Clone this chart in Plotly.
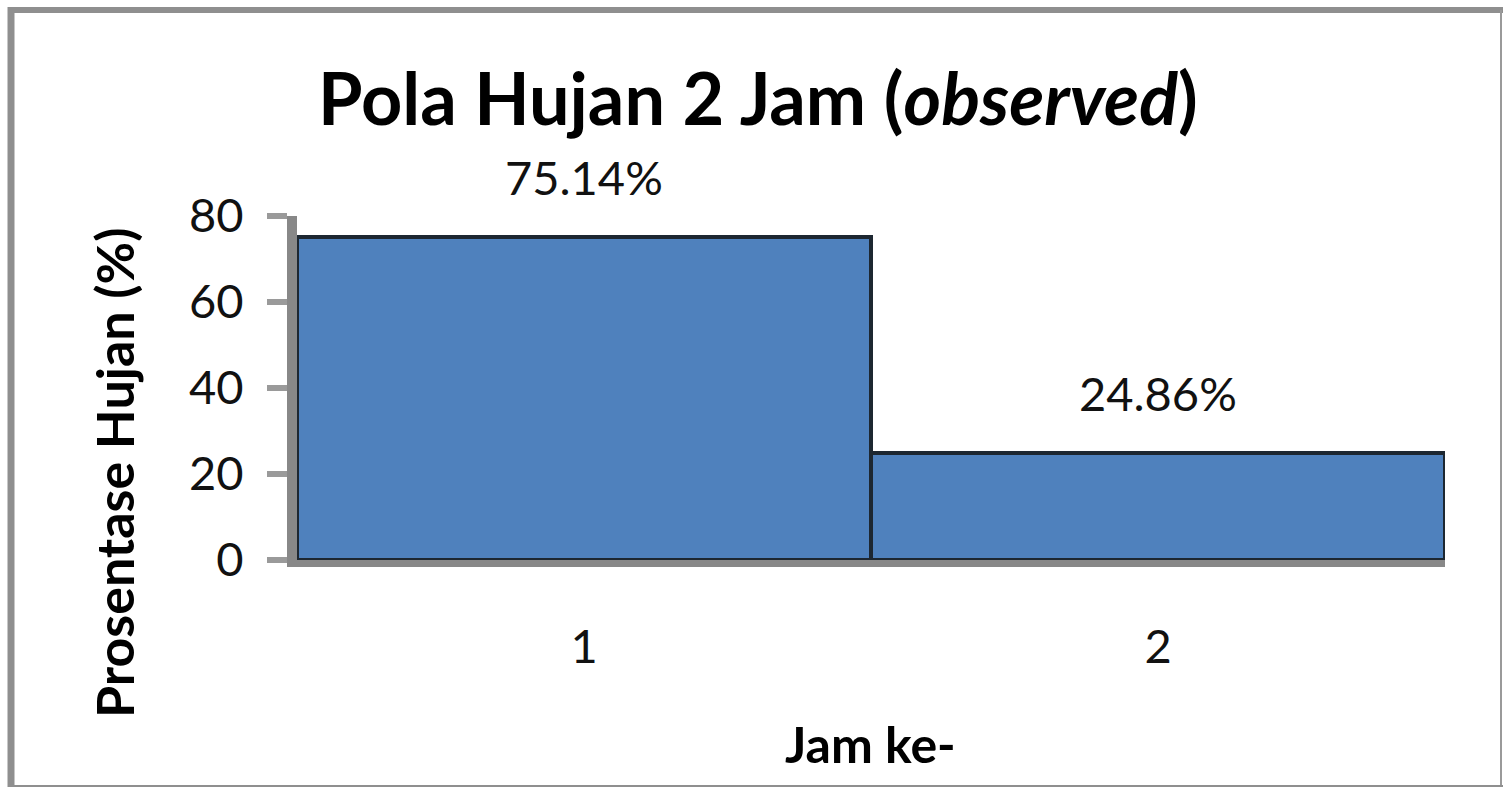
import plotly.graph_objects as go

# Data
jam = [1, 2]
persen = [75.14, 24.86]
y_ticks = [0, 20, 40, 60, 80]

W, H = 1503, 788
# plot-area edges in pixels
L, R, T, B = 297, 1445, 216, 560
PW, PH = R - L, B - T


def px(x):
    return (x - L) / PW


def py(y):
    return (B - y) / PH


FONT = "Lato"
AXIS_GREY = "#888888"

fig = go.Figure(
    go.Bar(
        x=jam,
        y=persen,
        width=1.0,
        marker=dict(color="#4F81BD", line=dict(color="#1d2731", width=4)),
        hoverinfo="skip",
    )
)

# value labels above each bar
for xv, yv in zip(jam, persen):
    fig.add_annotation(
        x=xv, y=yv, xref="x", yref="y",
        text=f"{yv:.2f}%", showarrow=False,
        yanchor="bottom", yshift=30,
        font=dict(family=FONT, size=47, color="#111111"),
    )

# chart title
fig.add_annotation(
    x=px(758), y=py(97), xref="paper", yref="paper",
    text="<b>Pola Hujan 2 Jam (<i>observed</i>)</b>", showarrow=False,
    xanchor="center", yanchor="middle",
    font=dict(family=FONT, size=72, color="#000000"),
)

# axis titles
fig.add_annotation(
    x=px(114), y=py(473), xref="paper", yref="paper",
    text="<b>Prosentase Hujan (%)</b>", showarrow=False, textangle=-90,
    xanchor="center", yanchor="middle",
    font=dict(family=FONT, size=52, color="#000000"),
)
fig.add_annotation(
    x=px(870), y=py(744), xref="paper", yref="paper",
    text="<b>Jam ke-</b>", showarrow=False,
    xanchor="center", yanchor="middle",
    font=dict(family=FONT, size=50, color="#000000"),
)

# outer frame: heavier on the left and top edges
FRAME = "#8f8f8f"
fig.add_shape(type="line", xref="paper", yref="paper",
              x0=px(11), x1=px(11), y0=py(787), y1=py(7),
              line=dict(color=FRAME, width=7), layer="below")
fig.add_shape(type="line", xref="paper", yref="paper",
              x0=px(8), x1=px(1503), y0=py(10), y1=py(10),
              line=dict(color=FRAME, width=6), layer="below")
fig.add_shape(type="line", xref="paper", yref="paper",
              x0=px(1501), x1=px(1501), y0=py(787), y1=py(10),
              line=dict(color="#9a9a9a", width=2), layer="below")
fig.add_shape(type="line", xref="paper", yref="paper",
              x0=px(8), x1=px(1503), y0=py(786), y1=py(786),
              line=dict(color=FRAME, width=2), layer="below")

fig.update_layout(
    width=W, height=H,
    margin=dict(l=L, r=W - R, t=T, b=H - B, pad=0),
    paper_bgcolor="white", plot_bgcolor="white",
    bargap=0, showlegend=False,
    xaxis=dict(
        range=[0.5, 2.5], tickmode="array", tickvals=jam,
        ticktext=[str(j) for j in jam],
        showline=True, linecolor=AXIS_GREY, linewidth=7,
        ticks="", showgrid=False, zeroline=False,
        ticklabelstandoff=40,
        tickfont=dict(family=FONT, size=47, color="#111111"),
    ),
    yaxis=dict(
        range=[0, 80], tickmode="array", tickvals=y_ticks,
        showline=True, linecolor=AXIS_GREY, linewidth=10,
        ticks="outside", ticklen=20, tickwidth=6, tickcolor="#9a9a9a",
        showgrid=False, zeroline=False,
        ticklabelstandoff=14,
        tickfont=dict(family=FONT, size=47, color="#111111"),
    ),
)

fig.write_html("out.html")
